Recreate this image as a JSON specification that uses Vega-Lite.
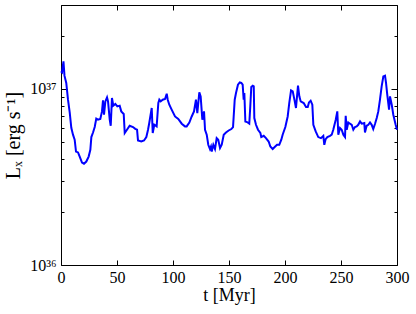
{
  "$schema": "https://vega.github.io/schema/vega-lite/v6.json",
  "width": 336,
  "height": 260,
  "autosize": {"type": "none"},
  "padding": {"left": 61, "top": 5, "right": 19, "bottom": 49},
  "background": "white",
  "config": {
    "view": {"stroke": "black", "strokeWidth": 1},
    "axis": {
      "grid": false,
      "domain": false,
      "tickColor": "black",
      "labelFont": "Liberation Serif",
      "labelFontSize": 16,
      "labelColor": "black",
      "titleFont": "Liberation Serif",
      "titleFontSize": 18,
      "titleFontWeight": "normal",
      "titleColor": "black"
    }
  },
  "data": {
    "values": [
      {"t": 0, "L": 1.26e37}, {"t": 0.9, "L": 1.243e37}, {"t": 2.2, "L": 1.436e37}, {"t": 3.1, "L": 1.19e37},
      {"t": 4.7, "L": 1.082e37}, {"t": 6.25, "L": 8.69e36}, {"t": 7.8, "L": 7.33e36}, {"t": 9.2, "L": 6.02e36},
      {"t": 10.7, "L": 5.5e36}, {"t": 12.2, "L": 5.15e36}, {"t": 13.4, "L": 4.41e36}, {"t": 15.2, "L": 4.36e36},
      {"t": 16.7, "L": 4.13e36}, {"t": 18.75, "L": 3.82e36}, {"t": 20.5, "L": 3.76e36}, {"t": 22.6, "L": 3.87e36},
      {"t": 24.7, "L": 4.13e36}, {"t": 26.2, "L": 4.51e36}, {"t": 27.1, "L": 5.33e36}, {"t": 28.6, "L": 5.66e36},
      {"t": 30.1, "L": 6.08e36}, {"t": 31.5, "L": 6.78e36}, {"t": 33.0, "L": 6.69e36}, {"t": 35.1, "L": 6.75e36},
      {"t": 36.6, "L": 7.46e36}, {"t": 37.5, "L": 8.61e36}, {"t": 38.4, "L": 7.14e36}, {"t": 39.6, "L": 8.5e36},
      {"t": 41.1, "L": 8.96e36}, {"t": 42.0, "L": 8.5e36}, {"t": 43.5, "L": 6.69e36}, {"t": 44.4, "L": 6.18e36},
      {"t": 45.5, "L": 8.89e36}, {"t": 46.7, "L": 8.04e36}, {"t": 48.5, "L": 8.22e36}, {"t": 50.3, "L": 7.96e36},
      {"t": 52.4, "L": 8.04e36}, {"t": 53.8, "L": 7.46e36}, {"t": 56.0, "L": 7.21e36}, {"t": 56.9, "L": 5.62e36},
      {"t": 58.9, "L": 5.87e36}, {"t": 61.3, "L": 6.18e36}, {"t": 64.3, "L": 6.08e36}, {"t": 66.3, "L": 5.94e36},
      {"t": 67.9, "L": 5.87e36}, {"t": 68.75, "L": 5.1e36}, {"t": 71.7, "L": 5.03e36}, {"t": 74.1, "L": 5.1e36},
      {"t": 76.2, "L": 5.33e36}, {"t": 77.7, "L": 5.87e36}, {"t": 78.8, "L": 6.41e36}, {"t": 81.0, "L": 7.8e36},
      {"t": 81.9, "L": 5.62e36}, {"t": 83.3, "L": 6.26e36}, {"t": 85.4, "L": 6.13e36}, {"t": 86.9, "L": 8.32e36},
      {"t": 87.8, "L": 8.69e36}, {"t": 89.0, "L": 8.5e36}, {"t": 90.8, "L": 8.69e36}, {"t": 92.9, "L": 8.77e36},
      {"t": 94.4, "L": 9.4e36}, {"t": 95.3, "L": 8.69e36}, {"t": 96.7, "L": 8.14e36}, {"t": 98.8, "L": 7.63e36},
      {"t": 101.8, "L": 6.98e36}, {"t": 104.7, "L": 6.75e36}, {"t": 107.8, "L": 6.35e36}, {"t": 110.7, "L": 6.13e36},
      {"t": 112.2, "L": 6.13e36}, {"t": 114.6, "L": 6.45e36}, {"t": 116.7, "L": 6.98e36}, {"t": 118.75, "L": 7.46e36},
      {"t": 120.5, "L": 8.69e36}, {"t": 121.7, "L": 7.3e36}, {"t": 123.5, "L": 9.57e36}, {"t": 124.7, "L": 9.08e36},
      {"t": 126.2, "L": 6.69e36}, {"t": 127.7, "L": 7.46e36}, {"t": 128.6, "L": 5.87e36}, {"t": 130.1, "L": 5.5e36},
      {"t": 131.5, "L": 4.82e36}, {"t": 133.0, "L": 4.56e36}, {"t": 133.9, "L": 4.71e36}, {"t": 134.6, "L": 4.41e36},
      {"t": 136.0, "L": 4.82e36}, {"t": 137.5, "L": 4.56e36}, {"t": 139.0, "L": 5.26e36}, {"t": 140.4, "L": 5.15e36},
      {"t": 142.0, "L": 4.62e36}, {"t": 143.5, "L": 4.82e36}, {"t": 145.3, "L": 5.5e36}, {"t": 147.3, "L": 5.66e36},
      {"t": 149.7, "L": 5.81e36}, {"t": 152.1, "L": 5.92e36}, {"t": 153.6, "L": 6.08e36}, {"t": 155.1, "L": 8.69e36},
      {"t": 156.25, "L": 9.49e36}, {"t": 158.0, "L": 1.058e37}, {"t": 159.6, "L": 1.09e37}, {"t": 161.0, "L": 1.082e37},
      {"t": 162.2, "L": 1.058e37}, {"t": 163.1, "L": 8.69e36}, {"t": 163.7, "L": 9.49e36}, {"t": 164.6, "L": 6.54e36},
      {"t": 166.1, "L": 6.49e36}, {"t": 168.1, "L": 6.35e36}, {"t": 169.0, "L": 7.96e36}, {"t": 169.9, "L": 1.026e37},
      {"t": 171.2, "L": 1.044e37}, {"t": 172.1, "L": 1.035e37}, {"t": 172.6, "L": 6.84e36}, {"t": 174.1, "L": 6.26e36},
      {"t": 175.9, "L": 5.87e36}, {"t": 178.0, "L": 5.62e36}, {"t": 178.8, "L": 5.33e36}, {"t": 181.0, "L": 5.42e36},
      {"t": 183.0, "L": 5.26e36}, {"t": 185.4, "L": 5.03e36}, {"t": 186.9, "L": 4.71e36}, {"t": 189.0, "L": 4.56e36},
      {"t": 190.8, "L": 4.68e36}, {"t": 192.9, "L": 4.82e36}, {"t": 194.9, "L": 4.82e36}, {"t": 196.7, "L": 5.15e36},
      {"t": 197.9, "L": 5.5e36}, {"t": 200.3, "L": 6.08e36}, {"t": 202.4, "L": 6.98e36}, {"t": 203.8, "L": 8.32e36},
      {"t": 205.4, "L": 9.82e36}, {"t": 206.9, "L": 9.69e36}, {"t": 208.7, "L": 8.5e36}, {"t": 209.8, "L": 7.8e36},
      {"t": 211.6, "L": 1.044e37}, {"t": 212.8, "L": 9.08e36}, {"t": 214.0, "L": 8.5e36}, {"t": 216.7, "L": 8.32e36},
      {"t": 218.75, "L": 7.9e36}, {"t": 220.3, "L": 7.9e36}, {"t": 221.4, "L": 8.39e36}, {"t": 222.9, "L": 8.58e36},
      {"t": 224.4, "L": 8.14e36}, {"t": 225.3, "L": 6.26e36}, {"t": 227.4, "L": 5.74e36}, {"t": 229.7, "L": 5.33e36},
      {"t": 232.1, "L": 5.26e36}, {"t": 234.2, "L": 5.42e36}, {"t": 235.1, "L": 4.82e36}, {"t": 236.3, "L": 5.19e36},
      {"t": 237.8, "L": 5.33e36}, {"t": 240.2, "L": 5.42e36}, {"t": 241.7, "L": 5.5e36}, {"t": 243.1, "L": 5.87e36},
      {"t": 245.3, "L": 6.69e36}, {"t": 246.7, "L": 7.46e36}, {"t": 247.6, "L": 5.5e36}, {"t": 249.1, "L": 6.0e36},
      {"t": 250.6, "L": 5.87e36}, {"t": 252.1, "L": 5.5e36}, {"t": 253.6, "L": 5.33e36}, {"t": 254.2, "L": 7.05e36},
      {"t": 255.1, "L": 5.87e36}, {"t": 256.5, "L": 6.45e36}, {"t": 258.0, "L": 6.35e36}, {"t": 259.6, "L": 6.26e36},
      {"t": 261.0, "L": 5.87e36}, {"t": 262.5, "L": 6.08e36}, {"t": 264.0, "L": 6.13e36}, {"t": 265.4, "L": 6.26e36},
      {"t": 267.0, "L": 6.54e36}, {"t": 268.5, "L": 6.35e36}, {"t": 270.8, "L": 6.41e36}, {"t": 271.4, "L": 5.66e36},
      {"t": 272.9, "L": 6.18e36}, {"t": 274.4, "L": 6.26e36}, {"t": 275.9, "L": 6.45e36}, {"t": 277.4, "L": 6.26e36},
      {"t": 278.8, "L": 5.92e36}, {"t": 280.4, "L": 6.35e36}, {"t": 281.9, "L": 6.84e36}, {"t": 283.3, "L": 7.46e36},
      {"t": 284.8, "L": 8.69e36}, {"t": 286.3, "L": 1.035e37}, {"t": 287.8, "L": 1.179e37}, {"t": 289.3, "L": 1.19e37},
      {"t": 290.2, "L": 1.082e37}, {"t": 291.3, "L": 9.28e36}, {"t": 292.9, "L": 7.63e36}, {"t": 293.75, "L": 9.08e36},
      {"t": 295.3, "L": 8.14e36}, {"t": 296.7, "L": 7.14e36}, {"t": 298.8, "L": 6.26e36}, {"t": 300, "L": 5.87e36}
    ]
  },
  "layer": [
    {
      "mark": {"type": "line", "color": "#0000ff", "strokeWidth": 2, "interpolate": "linear"},
      "encoding": {
        "x": {
          "field": "t", "type": "quantitative",
          "scale": {"domain": [0, 300], "nice": false, "zero": false},
          "axis": {
            "orient": "bottom", "values": [0, 50, 100, 150, 200, 250, 300],
            "tickSize": -5, "labelPadding": 9, "labelFlush": false,
            "title": "t [Myr]", "titlePadding": 1
          }
        },
        "y": {
          "field": "L", "type": "quantitative",
          "scale": {"type": "log", "domain": [1e36, 3e37], "nice": false},
          "axis": {
            "orient": "left",
            "values": [1e36, 2e36, 3e36, 4e36, 5e36, 6e36, 7e36, 8e36, 9e36, 1e37, 2e37, 3e37],
            "tickSize": {"condition": {"test": "abs(datum.value/1e36 - 1) < 1e-6 || abs(datum.value/1e37 - 1) < 1e-6", "value": -6}, "value": -3},
            "labelPadding": 11, "labelFlush": false, "labelOverlap": false, "labelBaseline": "middle",
            "labelExpr": "abs(datum.value/1e36 - 1) < 1e-6 ? '10³⁶' : (abs(datum.value/1e37 - 1) < 1e-6 ? '10³⁷' : '')",
            "title": "Lₓ [erg s⁻¹]", "titlePadding": 6, "titleFontSize": 20
          }
        }
      }
    },
    {
      "mark": {"type": "line", "color": "#0000ff", "strokeWidth": 2, "opacity": 0},
      "encoding": {
        "x": {
          "field": "t", "type": "quantitative",
          "axis": {"orient": "top", "values": [0, 50, 100, 150, 200, 250, 300], "tickSize": -5, "labels": false, "title": null}
        },
        "y": {
          "field": "L", "type": "quantitative",
          "axis": {
            "orient": "right",
            "values": [1e36, 2e36, 3e36, 4e36, 5e36, 6e36, 7e36, 8e36, 9e36, 1e37, 2e37, 3e37],
            "tickSize": {"condition": {"test": "abs(datum.value/1e36 - 1) < 1e-6 || abs(datum.value/1e37 - 1) < 1e-6", "value": -6}, "value": -3},
            "labels": false, "title": null
          }
        }
      }
    }
  ],
  "resolve": {"axis": {"x": "independent", "y": "independent"}}
}
